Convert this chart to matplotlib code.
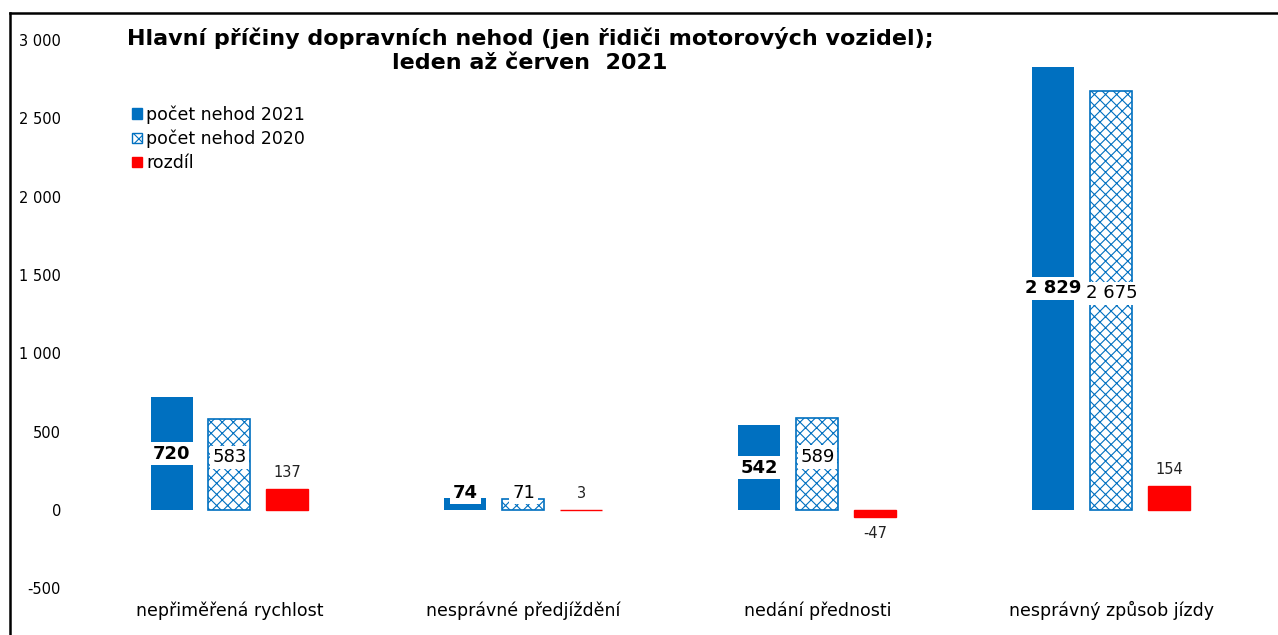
import numpy as np
import matplotlib
matplotlib.use('Agg')
import matplotlib.pyplot as plt
from matplotlib.patches import Patch
from matplotlib.lines import Line2D
from matplotlib.ticker import FuncFormatter

plt.rcParams['font.family'] = ['DejaVu Sans']
plt.rcParams['hatch.linewidth'] = 0.8

categories = ['nepřiměřená rychlost', 'nesprávné předjíždění',
              'nedání přednosti', 'nesprávný způsob jízdy']
nehody_2021 = [720, 74, 542, 2829]
nehody_2020 = [583, 71, 589, 2675]
rozdil = [137, 3, -47, 154]

blue = '#0070C0'
red = '#FF0000'

W, H = 1278, 635
fig = plt.figure(figsize=(W / 100, H / 100), dpi=100)

# axes placed so that 0 -> 510 px, 3000 -> 40 px
px_per_unit = 470 / 3000
ymin, ymax = -700, 3100
top_px = 40 - (ymax - 3000) * px_per_unit
bot_px = 510 - ymin * px_per_unit
left_px, right_px = 75, 1278
ax = fig.add_axes([left_px / W, (H - bot_px) / H,
                   (right_px - left_px) / W, (bot_px - top_px) / H])

grp = 294.0
x0_px = 229.5
ax.set_xlim(-(x0_px - left_px) / grp, (right_px - x0_px) / grp)
ax.set_ylim(ymin, ymax)

x = np.arange(len(categories))
bw = 42 / grp
off = 58 / grp

ax.bar(x - off, nehody_2021, bw, color=blue, zorder=2)
ax.bar(x, nehody_2020, bw, color='white', edgecolor=blue, hatch='xxx',
       linewidth=1.2, zorder=2)
ax.bar(x + off, rozdil, bw, color=red, edgecolor=red, linewidth=1, zorder=2)


def fmt(v):
    return f'{v:,}'.replace(',', ' ')


for xi, v in zip(x, nehody_2021):
    ax.text(xi - off, max(v / 2, 110), fmt(v),
            ha='center', va='center', fontsize=13, fontweight='bold',
            bbox=dict(facecolor='white', edgecolor='none', pad=2), zorder=3)
for xi, v in zip(x, nehody_2020):
    ax.text(xi, max(v / 2 + 45, 110), fmt(v),
            ha='center', va='center', fontsize=13,
            bbox=dict(facecolor='white', edgecolor='none', pad=2), zorder=3)
for xi, v in zip(x, rozdil):
    y = v + 105 if v >= 0 else v - 105
    ax.text(xi + off, y, str(v), ha='center', va='center', fontsize=10.5,
            color='#222222', zorder=3)

for xi, c in zip(x, categories):
    ax.text(xi, -640, c, ha='center', va='center', fontsize=12.5)

ax.set_yticks(np.arange(-500, 3001, 500))
ax.yaxis.set_major_formatter(FuncFormatter(lambda v, p: fmt(int(v))))
ax.tick_params(axis='y', length=0, pad=10, labelsize=10.5)
ax.set_xticks([])
for s in ax.spines.values():
    s.set_visible(False)

handles = [Patch(facecolor=blue, edgecolor=blue),
           Patch(facecolor='white', edgecolor=blue, hatch='xxx'),
           Patch(facecolor=red, edgecolor=red)]
labels = ['počet nehod 2021', 'počet nehod 2020', 'rozdíl']
fig.legend(handles, labels, loc='upper left',
           bbox_to_anchor=(132 / W, 1 - 105 / H), frameon=False,
           fontsize=12.5, handlelength=0.55, handleheight=0.55,
           handletextpad=0.25, labelspacing=0.35, borderpad=0,
           borderaxespad=0)

fig.text(530 / W, 1 - 50 / H,
         'Hlavní příčiny dopravních nehod (jen řidiči motorových vozidel);\nleden až červen  2021',
         ha='center', va='center', fontsize=16, fontweight='bold',
         linespacing=1.25)

# outer frame (left and top edges)
fig.add_artist(Line2D([10 / W, 10 / W], [0, 1 - 13 / H], color='black', lw=1.8,
                      transform=fig.transFigure))
fig.add_artist(Line2D([10 / W, 1], [1 - 13 / H, 1 - 13 / H], color='black', lw=1.8,
                      transform=fig.transFigure))

fig.savefig('out.png', dpi=100)
